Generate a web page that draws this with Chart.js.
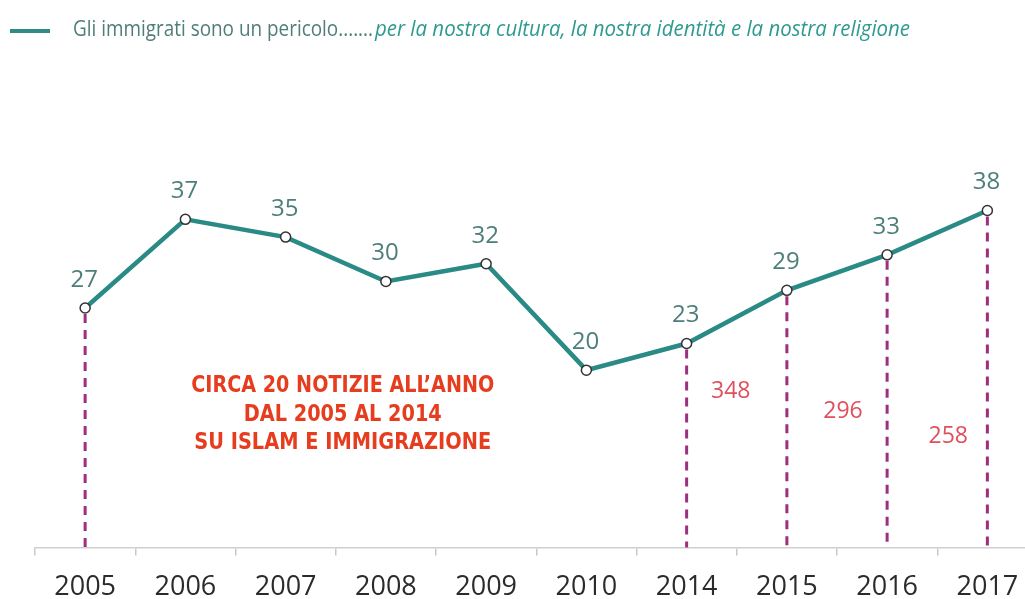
<!DOCTYPE html>
<html><head><meta charset="utf-8">
<script src="https://cdn.jsdelivr.net/npm/chart.js@4"></script>
<style>
html,body{margin:0;padding:0;background:#fff;overflow:hidden;width:1025px;height:599px}
#wrap{width:1044px;height:620px;position:relative}
</style></head><body><div id="wrap"><canvas id="c" width="1044" height="620"></canvas></div>
<script>
const years = ['2005','2006','2007','2008','2009','2010','2014','2015','2016','2017'];
const percent = [27,37,35,30,32,20,23,29,33,38];
const dropLines = [true,false,false,false,false,false,true,true,true,true];
const newsCounts = [null,null,null,null,null,null,null,348,296,258];
const legendMain = 'Gli immigrati sono un pericolo.......';
const legendItalic = 'per la nostra cultura, la nostra identità e la nostra religione';
const noteLines = ['CIRCA 20 NOTIZIE ALL\u2019ANNO','DAL 2005 AL 2014','SU ISLAM E IMMIGRAZIONE'];

const SANS = '"Open Sans", "Noto Sans", sans-serif';
const COND = '"DejaVu Sans Condensed", "DejaVu Sans", sans-serif';

const extras = {
  id: 'extras',
  beforeDatasetsDraw(chart) {
    const {ctx, chartArea} = chart;
    const meta = chart.getDatasetMeta(0);
    ctx.save();
    ctx.strokeStyle = '#9e2f80';
    ctx.lineWidth = 3;
    ctx.setLineDash([9, 7]);
    meta.data.forEach((pt, i) => {
      if (!dropLines[i]) return;
      ctx.beginPath();
      ctx.moveTo(pt.x, pt.y + 6);
      ctx.lineTo(pt.x, chartArea.bottom);
      ctx.stroke();
    });
    ctx.restore();
  },
  afterDatasetsDraw(chart) {
    const {ctx} = chart;
    const meta = chart.getDatasetMeta(0);
    const xs = chart.scales.x, ys = chart.scales.y;
    ctx.save();
    ctx.textAlign = 'center';
    ctx.textBaseline = 'middle';
    // value labels
    ctx.fillStyle = '#4d7f7a';
    ctx.font = '24px ' + SANS;
    meta.data.forEach((pt, i) => {
      ctx.fillText(String(percent[i]), pt.x - 1, pt.y - 28);
    });
    // news counts, between previous and current year
    const levels = [0,0,0,0,0,0,0,17.55,15.3,12.5];
    const shifts = [0,0,0,0,0,0,0,-0.06,0.06,0.11];
    ctx.fillStyle = '#e0505c';
    ctx.font = '23px ' + SANS;
    newsCounts.forEach((v, i) => {
      if (v == null) return;
      const x = xs.getPixelForValue(i - 0.5 + shifts[i]);
      ctx.fillText(String(v), x, ys.getPixelForValue(levels[i]));
    });
    // note
    ctx.fillStyle = '#e63d1f';
    ctx.font = 'bold 23px ' + COND;
    const nx = xs.getPixelForValue(2.57);
    const widths = [303, 198, 297];
    noteLines.forEach((t, k) => {
      ctx.fillText(t, nx, ys.getPixelForValue(18.2) + k * 28.5, widths[k]);
    });
    ctx.restore();
  },
  afterDraw(chart) {
    const {ctx} = chart;
    ctx.save();
    ctx.strokeStyle = '#2e8b85';
    ctx.lineWidth = 4;
    ctx.beginPath();
    ctx.moveTo(10, 31);
    ctx.lineTo(50, 31);
    ctx.stroke();
    ctx.textBaseline = 'middle';
    ctx.textAlign = 'left';
    ctx.font = '21px ' + SANS;
    ctx.fillStyle = '#4f7d78';
    ctx.fillText(legendMain, 73, 30, 300);
    ctx.font = 'italic 21px ' + SANS;
    ctx.fillStyle = '#2e9a90';
    ctx.fillText(legendItalic, 375, 30, 535);
    ctx.restore();
  }
};

new Chart(document.getElementById('c'), {
  type: 'line',
  data: {
    labels: years,
    datasets: [{
      label: legendMain + legendItalic,
      data: percent,
      borderColor: '#2a8a85',
      borderWidth: 4.5,
      pointRadius: 5,
      pointBackgroundColor: '#ffffff',
      pointBorderColor: '#333333',
      pointBorderWidth: 1.5,
      tension: 0,
      clip: false
    }]
  },
  options: {
    responsive: false,
    animation: false,
    devicePixelRatio: 1,
    layout: {padding: {left: 35, right: 0, top: 104, bottom: 0}},
    plugins: {legend: {display: false}, tooltip: {enabled: false}},
    scales: {
      x: {
        type: 'category',
        offset: true,
        grid: {offset: true, drawOnChartArea: false, drawTicks: true, tickLength: 8, color: '#c8c8c8', lineWidth: 1.5},
        border: {display: true, color: '#d0d0d0', width: 1.5},
        ticks: {color: '#2b2b2b', font: {family: SANS, size: 27}, padding: 16, maxRotation: 0, autoSkip: false}
      },
      y: {display: false, min: 0, max: 50}
    }
  },
  plugins: [extras]
});
</script></body></html>
